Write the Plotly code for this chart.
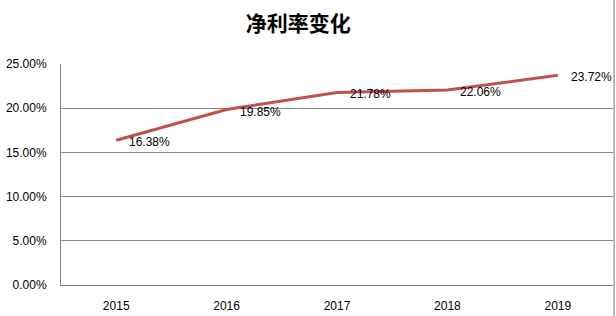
import plotly.graph_objects as go

years = ["2015", "2016", "2017", "2018", "2019"]
net_margin = [0.1638, 0.1985, 0.2178, 0.2206, 0.2372]
labels = ["16.38%", "19.85%", "21.78%", "22.06%", "23.72%"]
y_ticks = [0, 0.05, 0.10, 0.15, 0.20, 0.25]
y_tick_labels = ["0.00%", "5.00%", "10.00%", "15.00%", "20.00%", "25.00%"]

fig = go.Figure()
fig.add_trace(go.Scatter(
    x=years, y=net_margin, mode="lines",
    line=dict(color="#C0504D", width=3),
    hoverinfo="skip", showlegend=False,
))

for i, (yv, t) in enumerate(zip(net_margin, labels)):
    fig.add_annotation(
        x=i, y=yv, text=t, showarrow=False,
        xanchor="left", yanchor="middle", xshift=11, yshift=-2,
        font=dict(family="Liberation Sans", size=12, color="#000000"),
    )

fig.add_shape(type="line", xref="paper", yref="paper",
              x0=1.002, x1=1.002, y0=-0.2, y1=1.4,
              line=dict(color="#A0A0A0", width=1.5))

fig.update_layout(
    width=616, height=316,
    margin=dict(l=61, r=3, t=64, b=29),
    paper_bgcolor="white", plot_bgcolor="white",
    title=dict(text="净利率变化", x=0.484, xanchor="center", y=0.925, yanchor="middle",
               xref="container", yref="container",
               font=dict(family="Noto Sans CJK SC", size=21, color="#000000", weight="bold")),
    font=dict(family="Liberation Sans", size=12, color="#000000"),
)
fig.update_xaxes(
    type="category", range=[-0.5, 4.5],
    showline=True, linecolor="#868686", linewidth=1,
    showgrid=False, ticks="", ticklabelstandoff=10,
    tickfont=dict(family="Liberation Sans", size=12, color="#000000"),
)
fig.update_yaxes(
    range=[0, 0.25], tickvals=y_ticks, ticktext=y_tick_labels,
    showline=True, linecolor="#868686", linewidth=1,
    showgrid=True, gridcolor="#868686", gridwidth=1,
    zeroline=False, ticks="", ticklabelstandoff=11,
    tickfont=dict(family="Liberation Sans", size=12, color="#000000"),
)

fig.write_html("out.html")
